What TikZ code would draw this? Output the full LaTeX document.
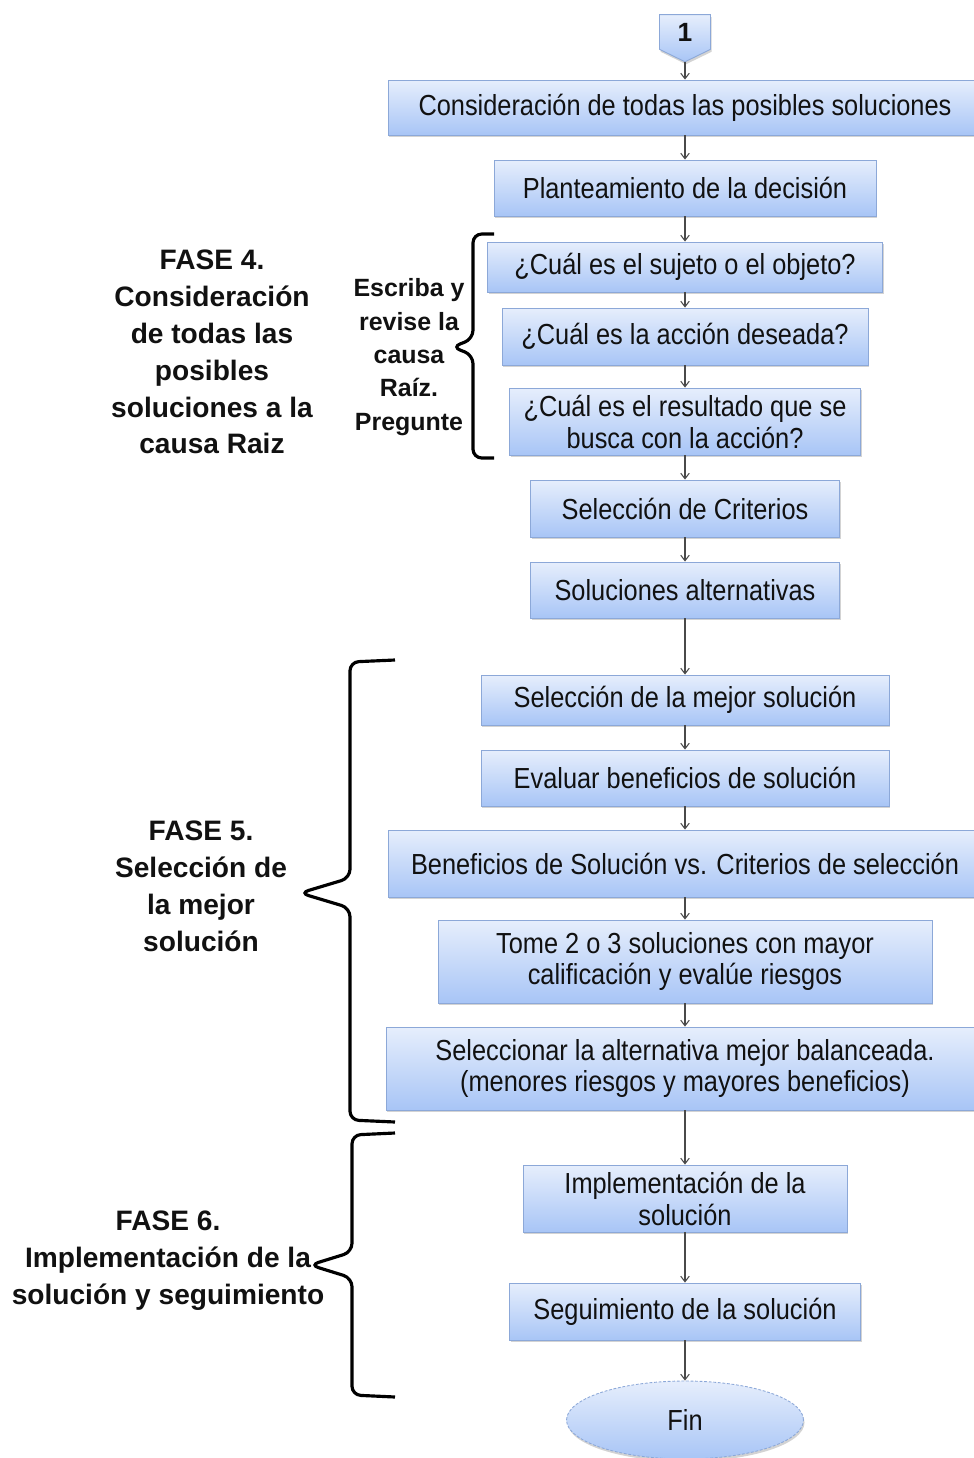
\documentclass[tikz,border=0pt]{standalone}
\usepackage{fontspec}
\setmainfont{Liberation Sans}
\newfontfamily\boxfont{Liberation Sans}[FakeStretch=0.875]
\usepackage{tikz}
\usetikzlibrary{arrows.meta,shapes.geometric,shapes.symbols,shadows}
\usepackage{xcolor}
\definecolor{boxtop}{HTML}{E6EEFC}
\definecolor{boxbot}{HTML}{A8C5F6}
\definecolor{boxline}{HTML}{8CA8D8}
\definecolor{ink}{HTML}{111111}
\definecolor{arw}{HTML}{4A4A4A}

\begin{document}
\begin{tikzpicture}[x=0.02cm, y=-0.02cm,
  n/.style={draw=boxline, line width=0.5pt, top color=boxtop, bottom color=boxbot,
    drop shadow={shadow xshift=0.6pt, shadow yshift=-1.4pt, opacity=0.35},
    align=center, inner sep=2pt, text=ink, font=\boxfont\fontsize{16.5}{18.2}\selectfont},
  stp/.style={n, signal, signal to=south, signal pointer angle=128, minimum width=1.02cm, minimum height=0.8cm,
    font=\bfseries\fontsize{15}{17}\selectfont},
  term/.style={n, ellipse, dashed, dash pattern=on 1.6pt off 1pt, minimum width=4.74cm, minimum height=1.56cm},
  e/.style={-{Straight Barb[length=1.1mm, width=1.7mm]}, line width=0.6pt, draw=arw},
  phase/.style={align=center, text=ink, font=\bfseries\fontsize{16}{21}\selectfont},
  ask/.style={align=center, text=ink, font=\bfseries\fontsize{14.2}{19}\selectfont},
  brc/.style={line width=1.8pt, draw=black, rounded corners=5pt}
]
\useasboundingbox (0,0) rectangle (974,1458);
% flow
\node[stp] (start) at (685,32) {1};
\node[n, minimum width=11.88cm, minimum height=1.1cm]  (cons)   at (685,107.5)  {Consideración de todas las posibles soluciones};
\node[n, minimum width=7.64cm, minimum height=1.12cm]  (plan)   at (685,188)    {Planteamiento de la decisión};
\node[n, minimum width=7.9cm, minimum height=1.0cm]    (suj)    at (685,267)    {¿Cuál es el sujeto o el objeto?};
\node[n, minimum width=7.32cm, minimum height=1.14cm]  (acc)    at (685,336.5)  {¿Cuál es la acción deseada?};
\node[n, minimum width=7.02cm, minimum height=1.34cm]  (res)    at (685,421.5)  {¿Cuál es el resultado que se\\busca con la acción?};
\node[n, minimum width=6.18cm, minimum height=1.14cm]  (crit)   at (685,508.5)  {Selección de Criterios};
\node[n, minimum width=6.18cm, minimum height=1.12cm]  (alt)    at (685,590)    {Soluciones alternativas};
\node[n, minimum width=8.16cm, minimum height=1.0cm]   (mejor)  at (685,700)    {Selección de la mejor solución};
\node[n, minimum width=8.16cm, minimum height=1.12cm]  (eval)   at (685,778)    {Evaluar beneficios de solución};
\node[n, minimum width=11.88cm, minimum height=1.34cm] (bvc)    at (685,863.5)  {Beneficios de Solución vs. Criterios de selección};
\node[n, minimum width=9.88cm, minimum height=1.66cm]  (tome)   at (685,961.5)  {Tome 2 o 3 soluciones con mayor\\calificación y evalúe riesgos};
\node[n, minimum width=11.96cm, minimum height=1.66cm] (selalt) at (685,1068.5) {Seleccionar la alternativa mejor balanceada.\\(menores riesgos y mayores beneficios)};
\node[n, minimum width=6.48cm, minimum height=1.34cm]  (impl)   at (685,1198.5) {Implementación de la\\solución};
\node[n, minimum width=7.02cm, minimum height=1.14cm]  (seg)    at (685,1311.5) {Seguimiento de la solución};
\node[term] (fin) at (685,1420) {Fin};
\draw[e] (start.south) -- (cons.north);
\draw[e] (cons) -- (plan);
\draw[e] (plan) -- (suj);
\draw[e] (suj) -- (acc);
\draw[e] (acc) -- (res);
\draw[e] (res) -- (crit);
\draw[e] (crit) -- (alt);
\draw[e] (alt) -- (mejor);
\draw[e] (mejor) -- (eval);
\draw[e] (eval) -- (bvc);
\draw[e] (bvc) -- (tome);
\draw[e] (tome) -- (selalt);
\draw[e] (selalt) -- (impl);
\draw[e] (impl) -- (seg);
\draw[e] (seg) -- (fin);
% phases
\node[phase] (f4) at (212,352) {FASE 4.\\Consideración\\de todas las\\posibles\\soluciones a la\\causa Raiz};
\node[ask]   (pq) at (409,357) {Escriba y\\revise la\\causa\\Raíz.\\Pregunte};
\node[phase] (f5) at (201,886) {FASE 5.\\Selección de\\la mejor\\solución};
\node[phase] (f6) at (168,1261) {FASE 6.\\Implementación de la\\solución y seguimiento};
% braces
\draw[brc] (494,234) -- (473,234) -- (473,339) -- (452,347) -- (473,355) -- (473,458) -- (494,458);
\draw[brc] (395,660) -- (350,662) -- (350,878) -- (300,893) -- (350,908) -- (350,1120) -- (395,1122);
\draw[brc] (395,1133) -- (352,1135) -- (352,1252) -- (310,1265) -- (352,1278) -- (352,1395) -- (395,1397);
\end{tikzpicture}
\end{document}
